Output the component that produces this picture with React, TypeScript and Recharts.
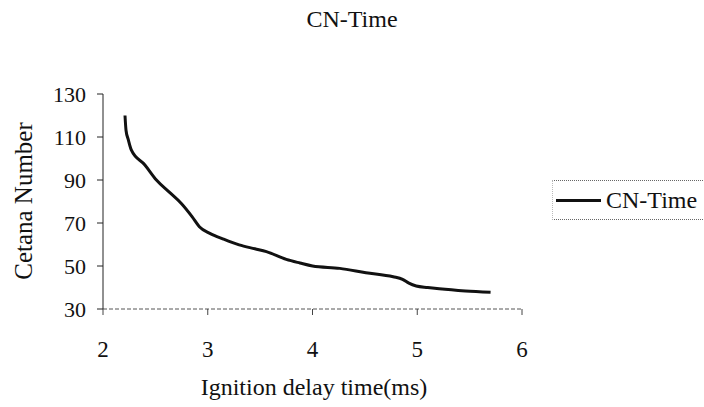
import { LineChart, Line, XAxis, YAxis } from "recharts";

const delayTimes = [2.21, 2.22, 2.24, 2.27, 2.4, 2.51, 2.63, 2.75, 2.85, 2.92, 3.02, 3.15, 3.3, 3.45, 3.56, 3.75, 3.88, 4.0, 4.26, 4.51, 4.77, 4.86, 4.92, 4.99, 5.1, 5.21, 5.46, 5.7];
const cetaneNumbers = [120, 113, 109, 104, 97, 90, 84.5, 79, 73, 68.3, 65.2, 62.5, 59.8, 58, 56.7, 53.1, 51.4, 50, 48.9, 46.9, 45, 43.8, 42, 40.7, 40, 39.4, 38.4, 37.8];
const xTicks = [2, 3, 4, 5, 6];
const yTicks = [30, 50, 70, 90, 110, 130];

const data = delayTimes.map((t, i) => ({ time: t, cn: cetaneNumbers[i] }));

const font = "'Liberation Serif', 'Times New Roman', serif";

function LegendBox() {
    return (
        <div
            style={{
                position: "absolute",
                left: 552,
                top: 180,
                width: 152,
                height: 38,
                borderTop: "1px dotted #666",
                borderBottom: "1px dotted #666",
                borderLeft: "1px dotted #bbb",
                display: "flex",
                alignItems: "center",
                fontSize: 24,
                color: "#111",
            }}
        >
            <span style={{ display: "inline-block", width: 45, height: 3, background: "#111", marginLeft: 3, marginRight: 5 }} />
            CN-Time
        </div>
    );
}

export default function App() {
    return (
        <div style={{ position: "absolute", left: 0, top: 0, width: 704, height: 407, background: "#fff", fontFamily: font }}>
            <LineChart width={704} height={407} data={data} margin={{ top: 94, right: 182, bottom: 68, left: 0 }}>
                <XAxis
                    type="number"
                    dataKey="time"
                    domain={[2, 6]}
                    ticks={xTicks}
                    height={30}
                    tickSize={6}
                    tickMargin={26}
                    stroke="#444"
                    axisLine={{ stroke: "#555", strokeDasharray: "4 2" }}
                    tick={{ fontSize: 23, fill: "#111", fontFamily: font }}
                />
                <YAxis
                    type="number"
                    domain={[30, 130]}
                    ticks={yTicks}
                    width={103}
                    tickSize={6}
                    tickMargin={11}
                    stroke="#222"
                    tick={{ fontSize: 22, fill: "#111", fontFamily: font }}
                />
                <Line
                    type="monotone"
                    dataKey="cn"
                    stroke="#111"
                    strokeWidth={3}
                    dot={false}
                    isAnimationActive={false}
                />
            </LineChart>
            <div style={{ position: "absolute", left: 0, width: 704, top: 6, textAlign: "center", fontSize: 24, color: "#111" }}>
                CN-Time
            </div>
            <div style={{ position: "absolute", left: 0, width: 628, top: 374, textAlign: "center", fontSize: 24, color: "#111" }}>
                Ignition delay time(ms)
            </div>
            <div
                style={{
                    position: "absolute",
                    left: 24,
                    top: 201,
                    transform: "translate(-50%, -50%) rotate(-90deg)",
                    whiteSpace: "nowrap",
                    fontSize: 25,
                    color: "#111",
                }}
            >
                Cetana Number
            </div>
            <LegendBox />
        </div>
    );
}
